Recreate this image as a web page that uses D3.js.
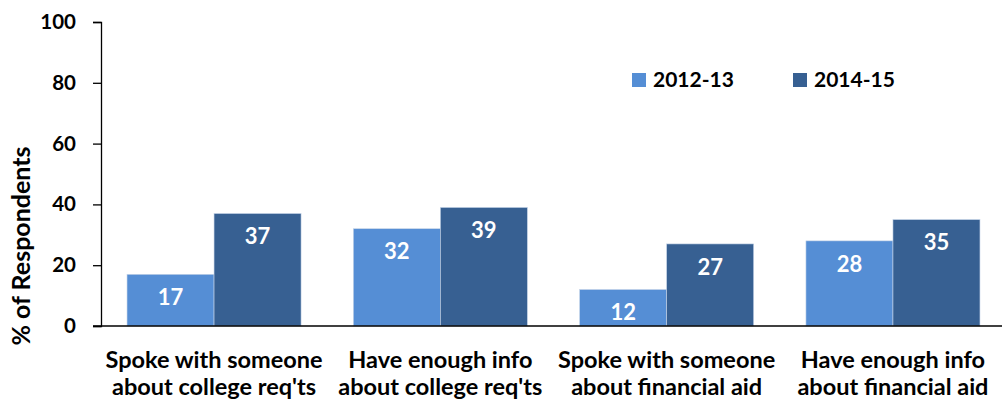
<!DOCTYPE html>
<html><head><meta charset="utf-8">
<script src="https://cdn.jsdelivr.net/npm/d3@7"></script>
<style>
body{margin:0;background:#fff;}
text{font-family:Lato,"Open Sans",sans-serif;font-weight:bold;}
</style></head>
<body><svg id="c" width="1002" height="403"></svg>
<script>
const categories = [
  ["Spoke with someone","about college req'ts"],
  ["Have enough info","about college req'ts"],
  ["Spoke with someone","about financial aid"],
  ["Have enough info","about financial aid"]
];
const seriesNames = ["2012-13","2014-15"];
const values2012 = [17,32,12,28];
const values2014 = [37,39,27,35];
const yTicks = [0,20,40,60,80,100];
const colors = ["#558ED5","#376092"];

(function(){
const svg = d3.select("#c");
const mLeft=101, mRight=1006, mTop=22, mBottom=326;
const x0 = d3.scaleBand().domain(d3.range(categories.length)).range([mLeft,mRight]).paddingInner(0.231).paddingOuter(0.115);
const x1 = d3.scaleBand().domain([0,1]).range([0,x0.bandwidth()]);
const y = d3.scaleLinear().domain([0,100]).range([mBottom,mTop]);

const data = categories.map((c,i)=>({i, vals:[values2012[i],values2014[i]]}));

const g = svg.append("g");
data.forEach(d=>{
  d.vals.forEach((v,s)=>{
    const bx = x0(d.i)+x1(s);
    g.append("rect").attr("x",bx).attr("y",y(v)).attr("width",x1.bandwidth()).attr("height",y(0)-y(v))
      .attr("fill",colors[s]).attr("stroke","#c6d4e8").attr("stroke-width",0.6);
    g.append("text").attr("x",bx+x1.bandwidth()/2).attr("y",y(v)+23).attr("dy","0.35em")
      .attr("text-anchor","middle").attr("fill","#fff").attr("font-size",22).text(v);
  });
});

const ya = svg.append("g").attr("transform",`translate(${mLeft},0)`)
  .call(d3.axisLeft(y).tickValues(yTicks).tickSize(8).tickPadding(17));
ya.select(".domain").attr("stroke","#000").attr("stroke-width",1.3);
ya.selectAll(".tick line").attr("stroke","#000").attr("stroke-width",1.3);
ya.selectAll(".tick text").attr("font-size",20.5).attr("fill","#000").attr("font-family","Lato");

svg.append("line").attr("x1",mLeft-8).attr("x2",1003).attr("y1",mBottom).attr("y2",mBottom)
  .attr("stroke","#000").attr("stroke-width",1.3);

categories.forEach((c,i)=>{
  const cx = x0(i)+x0.bandwidth()/2;
  const t = svg.append("text").attr("x",cx).attr("text-anchor","middle").attr("font-size",23.5).attr("fill","#000");
  t.append("tspan").attr("x",cx).attr("y",368).text(c[0]);
  t.append("tspan").attr("x",cx).attr("y",395).text(c[1]);
});

svg.append("text").attr("transform","translate(30,246) rotate(-90)").attr("text-anchor","middle")
  .attr("font-size",25).attr("fill","#000").text("% of Respondents");

const legX = [632,793];
seriesNames.forEach((n,s)=>{
  svg.append("rect").attr("x",legX[s]).attr("y",73).attr("width",14).attr("height",14).attr("fill",colors[s]);
  svg.append("text").attr("x",legX[s]+21).attr("y",80).attr("dy","0.35em").attr("font-size",21).attr("fill","#000").text(n);
});
})();
</script></body></html>
